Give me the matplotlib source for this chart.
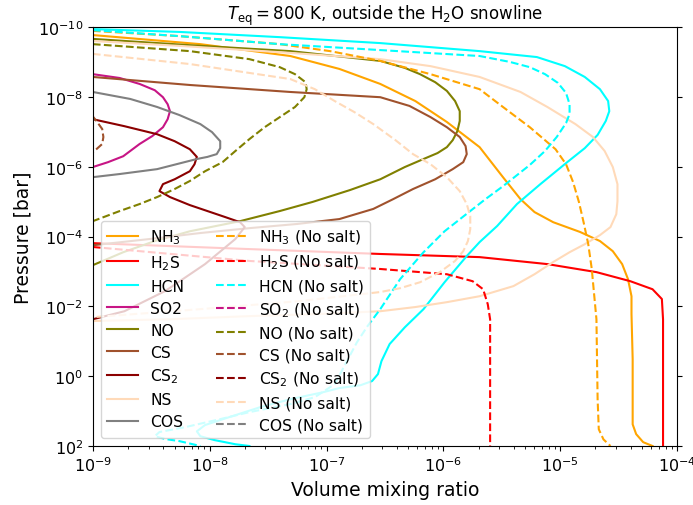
import numpy as np
import matplotlib
matplotlib.use("Agg")
import matplotlib.pyplot as plt

# log10 of pressure [bar] and log10 of VMR
labels = ["NH$_3$", "H$_2$S", "HCN", "SO2", "NO", "CS", "CS$_2$", "NS", "COS"]
labels_nosalt = ["NH$_3$", "H$_2$S", "HCN", "SO$_2$", "NO", "CS", "CS$_2$", "NS", "COS"]
colors = ["orange", "red", "cyan", "mediumvioletred", "olive", "sienna", "darkred", "peachpuff", "grey"]

# ---- with salt (solid)
nh3_p = [-9.77, -9.51, -9.17, -8.80, -8.37, -7.88, -7.28, -6.56, -5.70, -5.07, -4.70, -4.41, -4.13, -3.87, -3.58, -3.21, -2.78, -2.29, -1.78, -0.49, 1.38, 1.66, 1.89, 2.0]
nh3_x = [-9.00, -8.08, -7.31, -6.89, -6.54, -6.24, -5.97, -5.69, -5.49, -5.34, -5.22, -5.06, -4.83, -4.66, -4.55, -4.47, -4.42, -4.39, -4.39, -4.38, -4.38, -4.35, -4.29, -4.21]

h2s_p = [-3.81, -3.64, -3.50, -3.41, -3.21, -2.98, -2.72, -2.49, -2.21, -1.63, 2.0]
h2s_x = [-9.00, -7.66, -6.54, -5.69, -5.11, -4.69, -4.40, -4.21, -4.13, -4.12, -4.12]

hcn_p = [-9.94, -9.86, -9.71, -9.54, -9.31, -9.14, -8.88, -8.57, -8.22, -7.88, -7.59, -7.31, -6.91, -6.53, -6.13, -5.50, -4.93,
         -4.30, -3.84, -3.44, -2.69, -1.92, -1.40, -0.92, -0.43, -0.06, 0.14, 0.26, 0.34, 0.46, 0.66, 0.89, 1.17, 1.40, 1.58, 1.72, 1.83, 1.95, 2.0]
hcn_x = [-9.00, -8.26, -7.40, -6.54, -5.69, -5.20, -4.96, -4.79, -4.66, -4.59, -4.58, -4.61, -4.68, -4.79, -4.94, -5.17, -5.37,
         -5.54, -5.69, -5.80, -5.99, -6.17, -6.33, -6.46, -6.53, -6.56, -6.61, -6.71, -6.89, -7.03, -7.31, -7.57, -7.83, -8.04, -8.11, -8.08, -7.96, -7.78, -7.66]

so2_p = [-8.65, -8.54, -8.37, -8.19, -7.99, -7.79, -7.59, -7.36, -7.13, -6.88, -6.65, -6.30, -6.13, -5.99]
so2_x = [-9.00, -8.77, -8.60, -8.47, -8.40, -8.36, -8.34, -8.36, -8.40, -8.49, -8.60, -8.74, -8.87, -9.00]

no_p = [-9.66, -9.48, -9.31, -9.03, -8.83, -8.65, -8.42, -8.17, -7.88, -7.59, -7.31, -7.02, -6.76, -6.56, -6.39, -6.22, -5.99,
        -5.64, -5.33, -4.99, -4.73, -4.44, -4.15, -3.87, -3.55, -3.18]
no_x = [-9.00, -8.17, -7.31, -6.54, -6.33, -6.20, -6.07, -5.97, -5.90, -5.86, -5.86, -5.88, -5.92, -5.97, -6.05, -6.17, -6.33,
        -6.54, -6.80, -7.12, -7.40, -7.74, -8.17, -8.47, -8.74, -9.00]

cs_p = [-8.57, -8.34, -8.14, -7.99, -7.74, -7.42, -7.13, -6.85, -6.59, -6.36, -6.13, -5.93, -5.64, -5.36, -5.07, -4.79, -4.50, -4.36, -4.24, -4.10, -3.93, -3.75]
cs_x = [-9.00, -8.17, -7.31, -6.54, -6.29, -6.11, -5.97, -5.86, -5.81, -5.80, -5.83, -5.92, -6.07, -6.26, -6.43, -6.60, -6.89, -7.25, -7.66, -8.08, -8.51, -9.00]

cs2_p = [-7.36, -7.16, -6.93, -6.73, -6.50, -6.28, -6.07, -5.87, -5.64, -5.50, -5.30, -5.13, -4.90, -4.73, -4.56, -4.41, -4.27, -3.93, -3.21, -2.44, -1.86, -1.63]
cs2_x = [-9.00, -8.73, -8.45, -8.30, -8.17, -8.11, -8.13, -8.17, -8.30, -8.40, -8.43, -8.34, -8.17, -8.02, -7.87, -7.74, -7.70, -7.78, -8.04, -8.38, -8.73, -9.00]

ns_p = [-9.60, -9.46, -9.28, -9.08, -8.88, -8.57, -8.14, -7.71, -7.22, -6.85, -6.45, -5.99, -5.50, -5.01, -4.64, -4.27, -4.04,
        -3.78, -3.55, -3.27, -2.92, -2.58, -2.29, -2.12, -1.98, -1.86, -1.78, -1.72, -1.63, -1.58]
ns_x = [-9.00, -8.26, -7.40, -6.54, -6.11, -5.69, -5.34, -5.11, -4.87, -4.72, -4.62, -4.55, -4.51, -4.51, -4.52, -4.57, -4.66,
        -4.79, -4.92, -5.06, -5.22, -5.40, -5.69, -5.97, -6.24, -6.54, -7.06, -7.66, -8.34, -9.00]

cos_p = [-8.14, -7.94, -7.71, -7.48, -7.22, -6.99, -6.73, -6.53, -6.36, -6.28, -6.22, -5.93, -5.79, -5.70]
cos_x = [-9.00, -8.68, -8.45, -8.26, -8.08, -7.98, -7.91, -7.91, -7.94, -8.02, -8.11, -8.45, -8.77, -9.00]

# ---- no salt (dashed)
nh3_ns_p = [-9.89, -9.74, -9.51, -9.31, -9.03, -8.65, -8.22, -7.71, -7.13, -6.50, -6.07, -5.56, -4.99, -4.41, -3.78, -3.07, -1.63, 0.66, 1.52, 1.81, 2.0]
nh3_ns_x = [-9.00, -8.26, -7.40, -6.97, -6.54, -6.11, -5.69, -5.49, -5.26, -5.04, -4.95, -4.89, -4.84, -4.80, -4.76, -4.73, -4.69, -4.68, -4.67, -4.63, -4.57]

h2s_ns_p = [-3.70, -3.30, -3.07, -2.92, -2.72, -2.49, -2.06, -1.63, 2.0]
h2s_ns_x = [-9.00, -7.66, -6.54, -5.97, -5.75, -5.66, -5.62, -5.60, -5.60]

hcn_ns_p = [-9.91, -9.74, -9.51, -9.34, -9.17, -9.00, -8.85, -8.65, -8.40, -8.11, -7.79, -7.51, -7.25, -6.85, -6.45, -6.05, -5.44, -5.07, -4.73,
            -4.15, -3.55, -2.78, -1.92, -1.43, -0.97, -0.34, 0.23, 0.60, 0.80, 1.03, 1.23, 1.46, 1.60, 1.72, 1.80, 1.86, 2.0]
hcn_ns_x = [-9.00, -8.26, -7.40, -6.54, -5.69, -5.43, -5.26, -5.13, -5.02, -4.95, -4.92, -4.92, -4.95, -5.03, -5.13, -5.26, -5.49, -5.64, -5.77,
            -5.99, -6.17, -6.37, -6.54, -6.65, -6.74, -6.84, -6.93, -7.10, -7.31, -7.66, -7.91, -8.21, -8.43, -8.47, -8.38, -8.26, -8.08]

so2_ns_p = []
so2_ns_x = []

no_ns_p = [-9.51, -9.31, -9.08, -8.85, -8.65, -8.42, -8.22, -7.99, -7.71, -7.42, -7.13, -6.79, -6.45, -6.13, -5.87, -5.59, -5.36, -5.13, -4.93, -4.73, -4.44]
no_ns_x = [-9.00, -8.17, -7.66, -7.40, -7.27, -7.18, -7.17, -7.19, -7.27, -7.40, -7.53, -7.66, -7.78, -7.89, -8.04, -8.17, -8.30, -8.45, -8.60, -8.77, -9.00]

cs_ns_p = [-7.48, -7.31, -7.08, -6.85, -6.65, -6.50, -6.39]
cs_ns_x = [-9.01, -8.97, -8.92, -8.91, -8.92, -8.97, -9.01]

cs2_ns_p = []
cs2_ns_x = []

ns_ns_p = [-9.23, -8.94, -8.51, -8.22, -7.88, -7.56, -7.22, -6.76, -6.36, -6.07, -5.70, -5.30, -4.93, -4.58, -4.21, -3.87, -3.58,
           -3.30, -2.98, -2.69, -2.52, -2.41, -2.15, -1.92, -1.69]
ns_ns_x = [-9.00, -8.17, -7.31, -7.10, -6.93, -6.76, -6.60, -6.41, -6.26, -6.11, -5.97, -5.86, -5.80, -5.77, -5.77, -5.79, -5.83,
           -5.90, -6.03, -6.20, -6.37, -6.54, -7.23, -8.08, -9.00]

cos_ns_p = []
cos_ns_x = []

salt = [(nh3_x, nh3_p), (h2s_x, h2s_p), (hcn_x, hcn_p), (so2_x, so2_p), (no_x, no_p),
        (cs_x, cs_p), (cs2_x, cs2_p), (ns_x, ns_p), (cos_x, cos_p)]
nosalt = [(nh3_ns_x, nh3_ns_p), (h2s_ns_x, h2s_ns_p), (hcn_ns_x, hcn_ns_p), (so2_ns_x, so2_ns_p),
          (no_ns_x, no_ns_p), (cs_ns_x, cs_ns_p), (cs2_ns_x, cs2_ns_p), (ns_ns_x, ns_ns_p), (cos_ns_x, cos_ns_p)]

fig = plt.figure(figsize=(6.93, 5.06), dpi=100)
ax = fig.add_axes([0.134, 0.1166, 0.843, 0.828])

for (x, p), lab, c in zip(salt, labels, colors):
    ax.plot(10.0 ** np.array(x), 10.0 ** np.array(p), color=c, ls="-", lw=1.5, label=lab)
for (x, p), lab, c in zip(nosalt, labels_nosalt, colors):
    ax.plot(10.0 ** np.array(x), 10.0 ** np.array(p), color=c, ls="--", lw=1.5, label=lab + " (No salt)")

ax.set_xscale("log")
ax.set_yscale("log")
ax.set_xlim(1e-9, 1e-4)
ax.set_ylim(1e2, 1e-10)
ax.yaxis.set_ticks_position("both")
ax.tick_params(axis="y", which="minor", right=False)

ax.set_xlabel("Volume mixing ratio", fontsize=13.5)
ax.set_ylabel("Pressure [bar]", fontsize=13.5)
ax.set_title(r"$T_{\rm eq} = 800$ K, outside the H$_2$O snowline", fontsize=12)
ax.tick_params(labelsize=11.5)
ax.legend(ncol=2, loc="lower left", fontsize=11.2, labelspacing=0.45)

fig.savefig("out.png", dpi=100)
